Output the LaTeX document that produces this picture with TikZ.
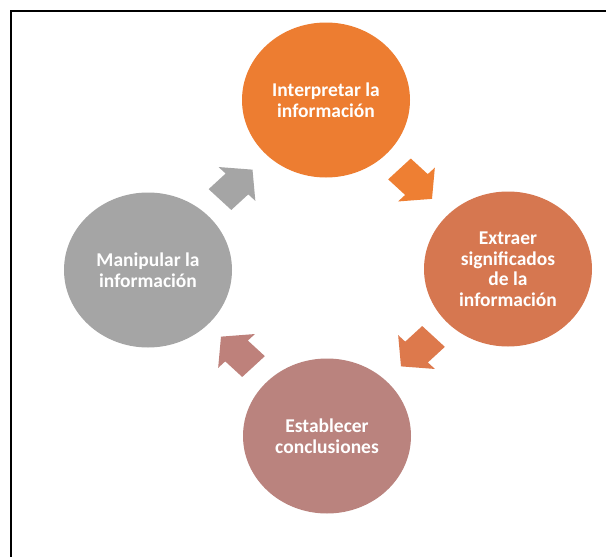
\documentclass[tikz,border=0pt]{standalone}
\usepackage{fontspec}
\setmainfont{Carlito}
\usetikzlibrary{shapes.geometric}
\definecolor{cTop}{RGB}{237,125,49}
\definecolor{cRight}{RGB}{214,119,80}
\definecolor{cBottom}{RGB}{186,131,126}
\definecolor{cLeft}{RGB}{165,165,165}
\definecolor{aTop}{RGB}{238,127,51}
\definecolor{aRight}{RGB}{221,121,76}
\definecolor{aBottom}{RGB}{190,129,123}
\definecolor{aLeft}{RGB}{165,165,165}
\newcommand{\cyclearrow}[3]{%
  \fill[blockarrow=#3, shift={(#1)}, yscale=0.92, rotate=#2]
    (-17,-16) -- (7,-16) -- (7,-26) -- (29,0) -- (7,26) -- (7,16) -- (-17,16) -- cycle;}
\begin{document}
\begin{tikzpicture}[x=1pt,y=-1pt,
  bubble/.style={ellipse, minimum width=168pt, minimum height=155pt, inner sep=0pt,
    fill=#1, text=white, align=center,
    font=\fontsize{19.5}{20.5}\selectfont\bfseries},
  blockarrow/.style={fill=#1, draw=none}]
\useasboundingbox (0,0) rectangle (606,557);
\fill[white] (0,0) rectangle (606,557);
\draw[line width=2pt, line cap=rect] (11,557) -- (11,11) -- (606,11);

\node[bubble=cTop]    (interp) at (326,100) {Interpretar la\\información};
\node[bubble=cRight]  (extra)  at (508,269) {Extraer\\significados\\de la\\información};
\node[bubble=cBottom] (concl)  at (327,436) {Establecer\\conclusiones};
\node[bubble=cLeft]   (manip)  at (148,270) {Manipular la\\información};

\coordinate (aLT) at (232,188.5);
\coordinate (aTR) at (411.5,180);
\coordinate (aRB) at (421.5,347.5);
\coordinate (aBL) at (241.5,355.5);

\cyclearrow{aLT}{45}{aLeft}
\cyclearrow{aTR}{-45}{aTop}
\cyclearrow{aRB}{-135}{aRight}
\cyclearrow{aBL}{135}{aBottom}
\end{tikzpicture}
\end{document}
